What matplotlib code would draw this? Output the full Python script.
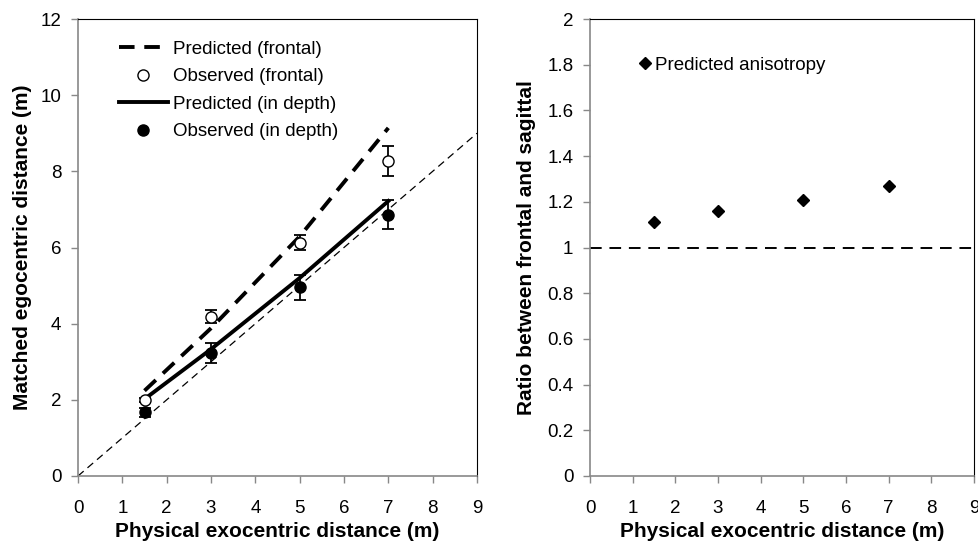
import matplotlib
matplotlib.use("Agg")
import matplotlib.pyplot as plt
import numpy as np

plt.rcParams['font.family'] = ['Liberation Sans', 'DejaVu Sans']

dist = [1.5, 3, 5, 7]
pred_frontal = [2.24, 3.88, 6.29, 9.14]
pred_depth = [2.02, 3.33, 5.2, 7.22]
obs_frontal = [2.0, 4.18, 6.13, 8.27]
obs_frontal_err = [0.06, 0.17, 0.2, 0.4]
obs_depth = [1.67, 3.23, 4.95, 6.86]
obs_depth_err = [0.12, 0.25, 0.32, 0.38]
ratio = [1.11, 1.16, 1.21, 1.27]
xticks = list(range(10))
ratio_ticks = ["0", "0.2", "0.4", "0.6", "0.8", "1", "1.2", "1.4", "1.6", "1.8", "2"]

fig = plt.figure(figsize=(9.79, 5.46), dpi=100)
axL = fig.add_axes([78/979, 1-476/546, (477-78)/979, (476-19)/546])
axR = fig.add_axes([590/979, 1-476/546, (974-590)/979, (476-19)/546])

def style(ax):
    for s in ["left", "bottom"]:
        ax.spines[s].set_color("#888888"); ax.spines[s].set_linewidth(1.2)
    for s in ["top", "right"]:
        ax.spines[s].set_color("black"); ax.spines[s].set_linewidth(0.8)
    ax.tick_params(axis="both", color="#888888", length=5, width=1, labelsize=13.5, pad=7)
    ax.tick_params(axis="x", pad=12)
    ax.set_xlim(0, 9); ax.set_xticks(xticks)
    ax.set_xlabel("Physical exocentric distance (m)", fontsize=15, fontweight="bold", labelpad=4)

# left panel
axL.plot([0, 9], [0, 9], "--", color="black", lw=0.9, dashes=(6, 4))
pf, = axL.plot(dist, pred_frontal, "--", color="black", lw=2.8, dashes=(4, 2.5))
ef = axL.errorbar(dist, obs_frontal, yerr=obs_frontal_err, fmt="o", mfc="white", mec="black", ecolor="black",
                  ms=8, capsize=4.5, elinewidth=1.3, capthick=1.3, zorder=4)
pdp, = axL.plot(dist, pred_depth, "-", color="black", lw=2.8)
ed = axL.errorbar(dist, obs_depth, yerr=obs_depth_err, fmt="o", mfc="black", mec="black", ecolor="black",
                  ms=8, capsize=4.5, elinewidth=1.3, capthick=1.3, zorder=4)
axL.set_ylim(0, 12); axL.set_yticks(range(0, 13, 2))
axL.set_ylabel("Matched egocentric distance (m)", fontsize=15, fontweight="bold", labelpad=6)
style(axL)
labels = ["Predicted (frontal)", "Observed (frontal)", "Predicted (in depth)", "Observed (in depth)"]
axL.legend([pf, ef[0], pdp, ed[0]], labels, loc="upper left", bbox_to_anchor=(0.06, 0.99), frameon=False,
           fontsize=13.5, handlelength=2.6, handletextpad=0.3, labelspacing=0.56)

# right panel
axR.axhline(1, color="black", lw=1.4, dashes=(6, 4))
axR.plot(dist, ratio, "D", color="black", ms=6.5, label="Predicted anisotropy")
axR.set_ylim(0, 2); axR.set_yticks(np.arange(0, 2.01, 0.2))
axR.set_yticklabels(ratio_ticks)
axR.set_ylabel("Ratio between frontal and sagittal", fontsize=15, fontweight="bold", labelpad=8)
style(axR)
axR.legend(loc="upper left", bbox_to_anchor=(0.085, 0.955), frameon=False, fontsize=13.5,
           handlelength=0.6, handletextpad=0.2)

fig.savefig("out.png", dpi=100)
